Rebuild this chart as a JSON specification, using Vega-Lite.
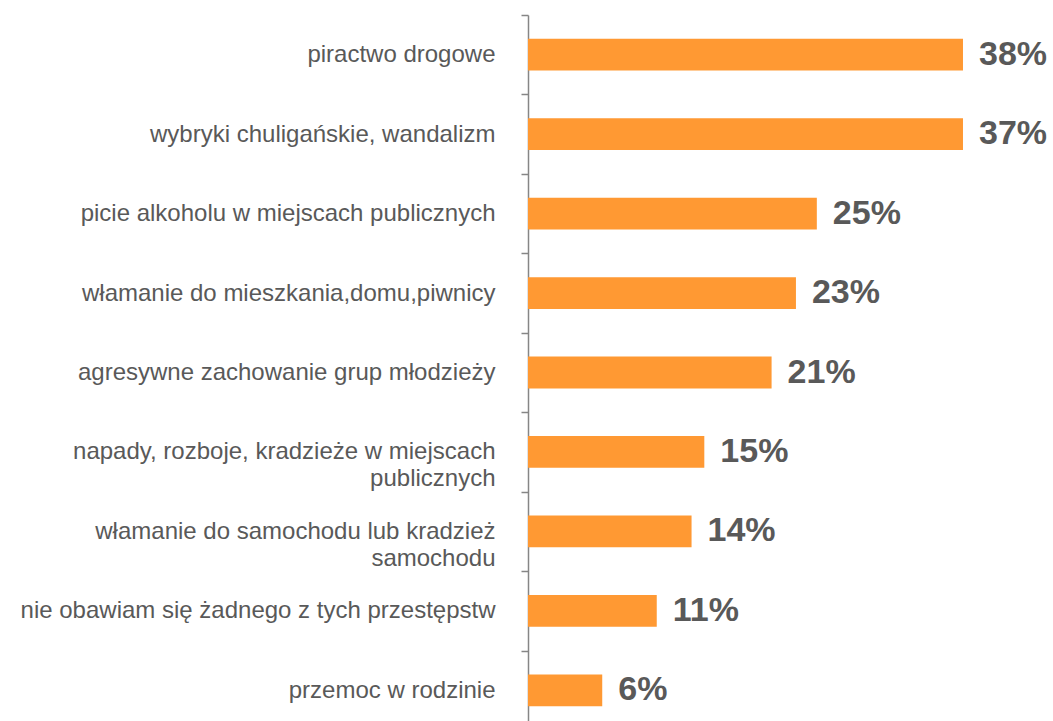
{
  "$schema": "https://vega.github.io/schema/vega-lite/v6.json",
  "autosize": "none",
  "padding": {"left": 528, "top": 15, "right": 0, "bottom": 0},
  "width": 525,
  "height": 715,
  "background": "#ffffff",
  "config": {"view": {"stroke": null}},
  "data": {
    "values": [
      {"category": "piractwo drogowe", "value": 37.5, "label": "38%"},
      {"category": "wybryki chuligańskie,  wandalizm", "value": 37.5, "label": "37%"},
      {"category": "picie alkoholu  w miejscach  publicznych", "value": 24.9, "label": "25%"},
      {"category": "włamanie do mieszkania,domu,piwnicy", "value": 23.1, "label": "23%"},
      {"category": "agresywne zachowanie  grup młodzieży", "value": 21.0, "label": "21%"},
      {"category": "napady, rozboje,  kradzieże  w miejscach|publicznych", "value": 15.2, "label": "15%"},
      {"category": "włamanie do samochodu  lub kradzież|samochodu", "value": 14.1, "label": "14%"},
      {"category": "nie obawiam  się żadnego z tych przestępstw", "value": 11.1, "label": "11%"},
      {"category": "przemoc w rodzinie", "value": 6.4, "label": "6%"}
    ]
  },
  "encoding": {
    "y": {
      "field": "category",
      "type": "nominal",
      "sort": null,
      "scale": {"paddingInner": 0.6, "paddingOuter": 0.3},
      "axis": {
        "title": null,
        "labelExpr": "split(datum.label, '|')",
        "labelFont": "Liberation Sans",
        "labelFontSize": 24,
        "labelColor": "#595959",
        "labelLineHeight": 27,
        "labelPadding": 26,
        "labelLimit": 600,
        "tickOffset": -39.7,
        "labelOffset": 39.7,
        "tickSize": 7,
        "tickColor": "#868686",
        "tickWidth": 1.5,
        "domainColor": "#868686",
        "domainWidth": 1.5,
        "grid": false
      }
    },
    "x": {
      "field": "value",
      "type": "quantitative",
      "scale": {"domain": [0, 45.26]},
      "axis": null
    }
  },
  "layer": [
    {"mark": {"type": "bar", "color": "#FF9933"}},
    {
      "mark": {
        "type": "text",
        "align": "left",
        "baseline": "middle",
        "dx": 16,
        "font": "Liberation Sans",
        "fontSize": 34,
        "fontWeight": "bold",
        "color": "#595959"
      },
      "encoding": {"text": {"field": "label"}}
    }
  ]
}
